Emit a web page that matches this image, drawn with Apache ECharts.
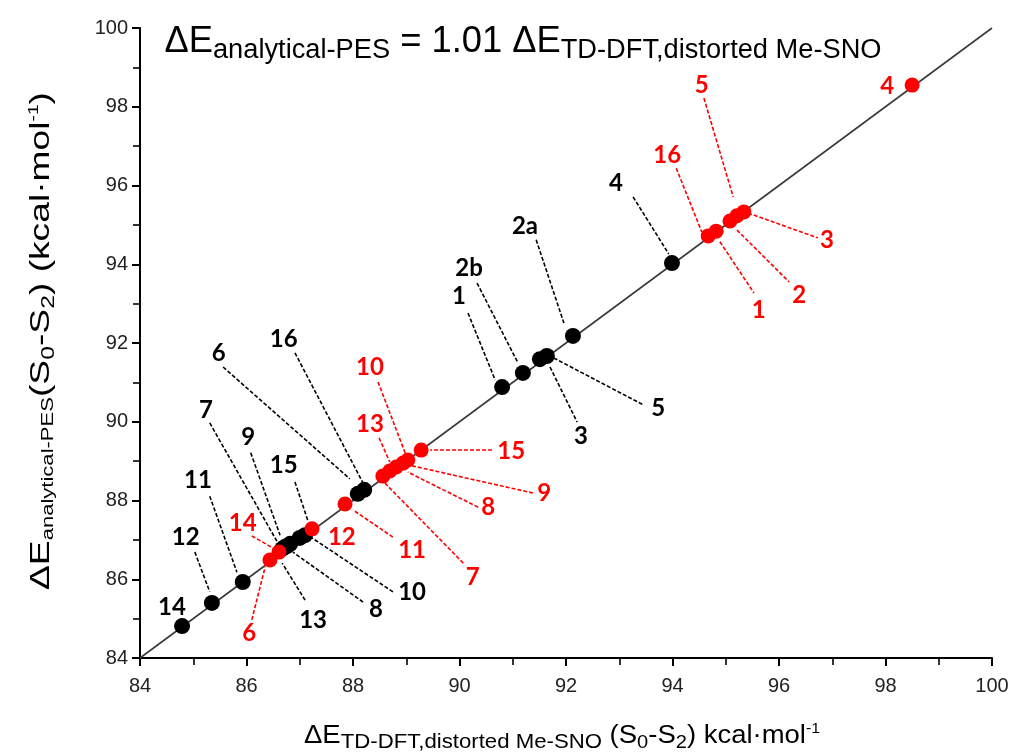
<!DOCTYPE html>
<html><head><meta charset="utf-8">
<script src="https://cdn.jsdelivr.net/npm/echarts@6/dist/echarts.min.js"></script>
<style>html,body{margin:0;padding:0;background:#fff;}#c{width:1014px;height:756px;}</style>
</head><body><div id="c"></div>
<script>
// ---- data (kcal/mol) ----
const blackNames = ['14','12','11','7','9','13','8','15','10','6','16','1','2b','3','5','2a','4'];
const blackX = [84.79,85.35,85.93,86.67,86.72,86.76,86.82,87.00,87.10,88.09,88.21,90.80,91.19,91.51,91.64,92.13,93.99];
const blackY = [84.81,85.40,85.93,86.77,86.82,86.84,86.90,87.05,87.12,88.17,88.27,90.88,91.24,91.59,91.67,92.18,94.03];

const redNames = ['6','14','12','11','7','13','8','9','10','15','16','1','2','5','3','4'];
const redX = [86.44,86.61,87.23,87.85,88.56,88.69,88.81,88.94,89.03,89.28,94.67,94.82,95.08,95.21,95.34,98.50];
const redY = [86.49,86.69,87.28,87.91,88.62,88.75,88.85,88.95,89.03,89.28,94.72,94.84,95.10,95.23,95.33,98.55];

const axisMin = 84, axisMax = 100, axisStep = 2;
const diagonal = [[84,84],[100,100]];

// ---- annotations (label text and its place, in data units) ----
const blackLabels = [
  ['14',84.60,85.30],['12',84.86,87.07],['11',85.09,88.52],['7',85.24,90.30],['9',86.03,89.61],
  ['15',86.70,88.90],['6',85.48,91.75],['16',86.70,92.10],['13',87.25,84.97],['8',88.43,85.24],
  ['10',89.11,85.68],['1',89.99,93.19],['2b',90.18,93.90],['2a',91.23,94.97],['4',92.94,96.06],
  ['3',92.28,89.64],['5',93.73,90.35]
];
const blackLeaders = [
  [85.03,86.69,85.31,85.68],[85.31,88.11,85.82,86.18],[85.31,89.97,86.59,86.92],[86.08,89.21,86.63,87.12],
  [86.91,88.47,87.15,87.50],[85.56,91.39,87.94,88.55],[86.91,91.75,88.19,88.44],[87.10,85.47,86.67,86.41],
  [88.19,85.42,86.87,86.69],[88.75,85.68,87.23,87.05],[90.16,92.76,90.67,91.06],[90.33,93.52,91.10,91.49],
  [91.44,94.62,91.96,92.51],[93.26,95.71,93.93,94.26],[91.70,91.39,92.21,89.99],[91.77,91.62,93.45,90.43]
];
const redLabels = [
  ['14',85.93,87.43],['6',86.05,84.63],['12',87.79,87.07],['11',89.11,86.74],['7',90.25,86.06],
  ['8',90.54,87.83],['9',91.59,88.19],['15',90.97,89.26],['13',88.32,89.94],['10',88.32,91.39],
  ['16',93.90,96.77],['5',94.55,98.55],['1',95.62,92.84],['2',96.38,93.22],['3',96.90,94.62],['4',98.03,98.53]
];
const redLeaders = [
  [86.10,87.10,86.50,86.79],[86.10,84.97,86.35,86.31],[88.75,87.07,88.00,87.76],[90.07,86.41,88.60,88.44],
  [90.35,87.83,89.03,88.72],[91.38,88.19,89.11,88.88],[90.61,89.28,89.45,89.28],[88.49,89.59,88.69,88.98],
  [88.47,91.01,89.01,89.10],[94.07,96.44,94.55,94.82],[94.59,98.22,95.14,95.71],[94.89,94.57,95.53,93.27],
  [95.21,94.87,96.19,93.55],[95.42,95.30,96.73,94.67]
];

const titleText = '{m|ΔE}{s|analytical-PES}{m| = 1.01 ΔE}{s|TD-DFT,distorted Me-SNO}';
const xNameText = '{m|ΔE}{s|TD-DFT,distorted Me-SNO}{m| (S}{d|0}{m|-S}{d|2}{m|) kcal·mol}{u|-1}';
const yNameText = '{m|ΔE}{s|analytical-PES}{m|(S}{d|0}{m|-S}{d|2}{m|) (kcal·mol}{u|-1}{m|)}';

const BLACK = '#000000', RED = '#ff0000', TXT = '#222222';
const labelFont = 'Lato, "Open Sans", sans-serif';
const axisFont = '"Liberation Sans", Arial, sans-serif';

function pts(xs, ys, names){ return xs.map((x,i)=>({name:names[i], value:[x, ys[i]]})); }
function lbls(arr){ return arr.map(a=>({name:a[0], value:[a[1],a[2]]})); }
function leaders(arr){ return arr.map(a=>[{coord:[a[0],a[1]]},{coord:[a[2],a[3]]}]); }

function richSet(M, S, D, U){
  return {
    m:{fontSize:M, fontFamily:axisFont, color:TXT, fontWeight:'normal', lineHeight:M*1.2, verticalAlign:'middle'},
    s:{fontSize:S, fontFamily:axisFont, color:TXT, fontWeight:'normal', lineHeight:S, padding:[M*0.5,0,0,0], verticalAlign:'middle'},
    d:{fontSize:D, fontFamily:axisFont, color:TXT, fontWeight:'normal', lineHeight:D, padding:[M*0.5,0,0,0], verticalAlign:'middle'},
    u:{fontSize:U, fontFamily:axisFont, color:TXT, fontWeight:'normal', lineHeight:U, padding:[0,0,M*0.55,0], verticalAlign:'middle'}
  };
}
const titleRich = richSet(36, 27, 20, 16);
const xRich = richSet(26, 21, 19, 15);
const yRich = richSet(27, 16, 18, 14);

function fitScale(text, rich, target){
  try {
    const t = new echarts.graphic.Text({style:{text:text, rich:rich}});
    const w = t.getBoundingRect().width;
    if (w > 0) return target / w;
  } catch(e) {}
  return 1;
}
function nameGraphic(text, rich, cx, cy, target, rot){
  const k = fitScale(text, rich, target);
  return {type:'text', x:cx, y:cy, rotation:rot||0, scaleX:k, scaleY:1, silent:true, z:10,
    style:{text:text, rich:rich, align:'center', verticalAlign:'middle'}};
}

const chart = echarts.init(document.getElementById('c'), null, {renderer:'canvas'});
const axisCommon = {
  type:'value', min:axisMin, max:axisMax, interval:axisStep,
  axisLine:{show:true, onZero:false, lineStyle:{color:'#000', width:2}},
  axisTick:{show:true, inside:false, length:8, lineStyle:{color:'#000', width:2}},
  minorTick:{show:true, splitNumber:2, length:7, lineStyle:{color:'#000', width:1.6}},
  splitLine:{show:false},
  axisLabel:{fontSize:20, fontFamily:axisFont, color:TXT, margin:12}
};
chart.setOption({
  animation:false,
  backgroundColor:'#fff',
  grid:{left:140, right:22, top:28, bottom:98, containLabel:false},
  xAxis:Object.assign({}, axisCommon, {axisLabel:Object.assign({}, axisCommon.axisLabel, {margin:18})}),
  yAxis:Object.assign({}, axisCommon),
  graphic:[
    nameGraphic(titleText, titleRich, 523, 42, 717, 0),
    nameGraphic(xNameText, xRich, 562, 736, 516, 0),
    nameGraphic(yNameText, yRich, 42, 341, 498, Math.PI/2)
  ],
  series:[
    {type:'line', data:diagonal, symbol:'none', silent:true, z:1,
     lineStyle:{color:'#3a3a3a', width:1.6}},
    {type:'scatter', data:[], silent:true, z:2,
     markLine:{silent:true, symbol:['none','none'], animation:false, label:{show:false},
       lineStyle:{color:BLACK, width:1.6, type:[4,2]}, emphasis:{disabled:true},
       data:leaders(blackLeaders)}},
    {type:'scatter', data:[], silent:true, z:2,
     markLine:{silent:true, symbol:['none','none'], animation:false, label:{show:false},
       lineStyle:{color:RED, width:1.6, type:[4,2]}, emphasis:{disabled:true},
       data:leaders(redLeaders)}},
    {type:'scatter', data:pts(blackX, blackY, blackNames), symbolSize:16, z:3,
     itemStyle:{color:BLACK, opacity:1}},
    {type:'scatter', data:pts(redX, redY, redNames), symbolSize:15, z:4,
     itemStyle:{color:RED, opacity:1}},
    {type:'scatter', data:lbls(blackLabels), symbolSize:0, z:5, silent:true,
     itemStyle:{color:'rgba(0,0,0,0)', opacity:1},
     label:{show:true, position:'inside', formatter:'{b}', fontSize:24, fontWeight:'bold',
       fontFamily:labelFont, color:'#000'}},
    {type:'scatter', data:lbls(redLabels), symbolSize:0, z:5, silent:true,
     itemStyle:{color:'rgba(0,0,0,0)', opacity:1},
     label:{show:true, position:'inside', formatter:'{b}', fontSize:24, fontWeight:'bold',
       fontFamily:labelFont, color:RED}}
  ]
});
</script></body></html>
